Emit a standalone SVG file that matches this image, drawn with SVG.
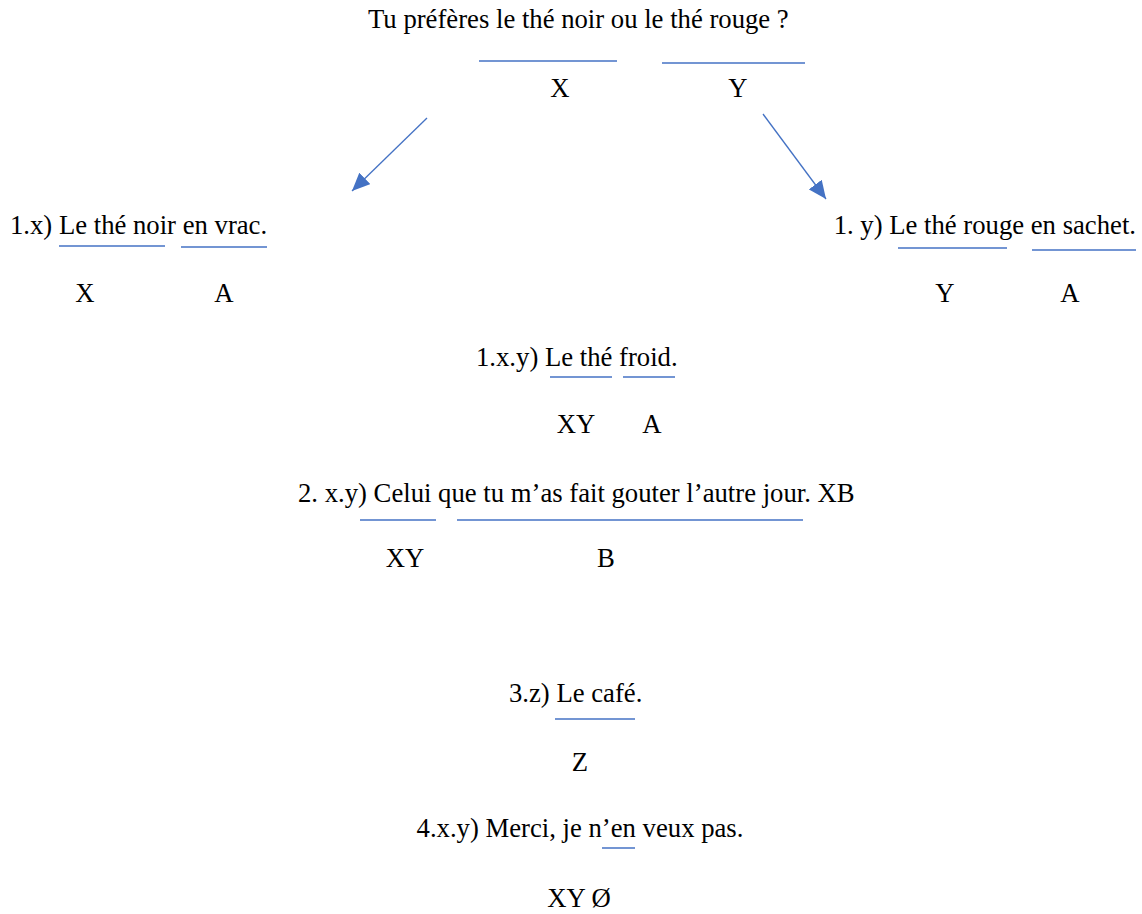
<svg xmlns="http://www.w3.org/2000/svg" width="1142" height="914" viewBox="0 0 1142 914">
<style>
text{font-family:"Liberation Serif","Times New Roman","DejaVu Serif",serif;font-size:26.7px;fill:#000}
.u{stroke:#4472C4;stroke-width:1.3;fill:none}
.c{text-anchor:middle}
.a{stroke:#4472C4;stroke-width:1.3;fill:none}
</style>
<defs>
<marker id="ah" markerUnits="userSpaceOnUse" markerWidth="20" markerHeight="16" refX="18" refY="8" orient="auto">
<path d="M0,0 L18,8 L0,16 Z" fill="#4472C4"/>
</marker>
</defs>
<rect width="1142" height="914" fill="#fff"/>
<g id="question">
<text x="368" y="28">Tu préfères le thé noir ou le thé rouge ?</text>
<line class="u" x1="479" y1="61" x2="617" y2="61"/>
<line class="u" x1="662" y1="63" x2="805" y2="63"/>
<text class="c" x="560" y="97">X</text>
<text class="c" x="738" y="97">Y</text>
</g>
<g id="connectors">
<line class="a" x1="427" y1="118" x2="352" y2="191" marker-end="url(#ah)"/>
<line class="a" x1="763" y1="114" x2="826" y2="199" marker-end="url(#ah)"/>
</g>
<g id="r1x">
<text x="10" y="234">1.x) Le thé noir en vrac.</text>
<line class="u" x1="59" y1="246" x2="165" y2="246"/>
<line class="u" x1="181" y1="247" x2="267" y2="247"/>
<text class="c" x="85" y="302">X</text>
<text class="c" x="224" y="302">A</text>
</g>
<g id="r1y">
<text x="1136" y="234" text-anchor="end">1. y) Le thé rouge en sachet.</text>
<line class="u" x1="898" y1="248" x2="1007" y2="248"/>
<line class="u" x1="1032" y1="250" x2="1136" y2="250"/>
<text class="c" x="945" y="302">Y</text>
<text class="c" x="1070" y="302">A</text>
</g>
<g id="r1xy">
<text x="476" y="366">1.x.y) Le thé froid.</text>
<line class="u" x1="550" y1="377" x2="612" y2="377"/>
<line class="u" x1="623" y1="377" x2="675" y2="377"/>
<text class="c" x="576" y="433">XY</text>
<text class="c" x="652" y="433">A</text>
</g>
<g id="r2xy">
<text x="298" y="502">2. x.y) Celui que tu m’as fait gouter l’autre jour. XB</text>
<line class="u" x1="360" y1="520" x2="436" y2="520"/>
<line class="u" x1="457" y1="520" x2="803" y2="520"/>
<text class="c" x="405" y="567">XY</text>
<text class="c" x="606" y="567">B</text>
</g>
<g id="r3z">
<text x="509" y="702">3.z) Le café.</text>
<line class="u" x1="555" y1="719" x2="635" y2="719"/>
<text class="c" x="580" y="771">Z</text>
</g>
<g id="r4xy">
<text class="c" x="580" y="837">4.x.y) Merci, je n’en veux pas.</text>
<line class="u" x1="602" y1="848" x2="635" y2="848"/>
<text class="c" x="579" y="907">XY Ø</text>
</g>
</svg>
